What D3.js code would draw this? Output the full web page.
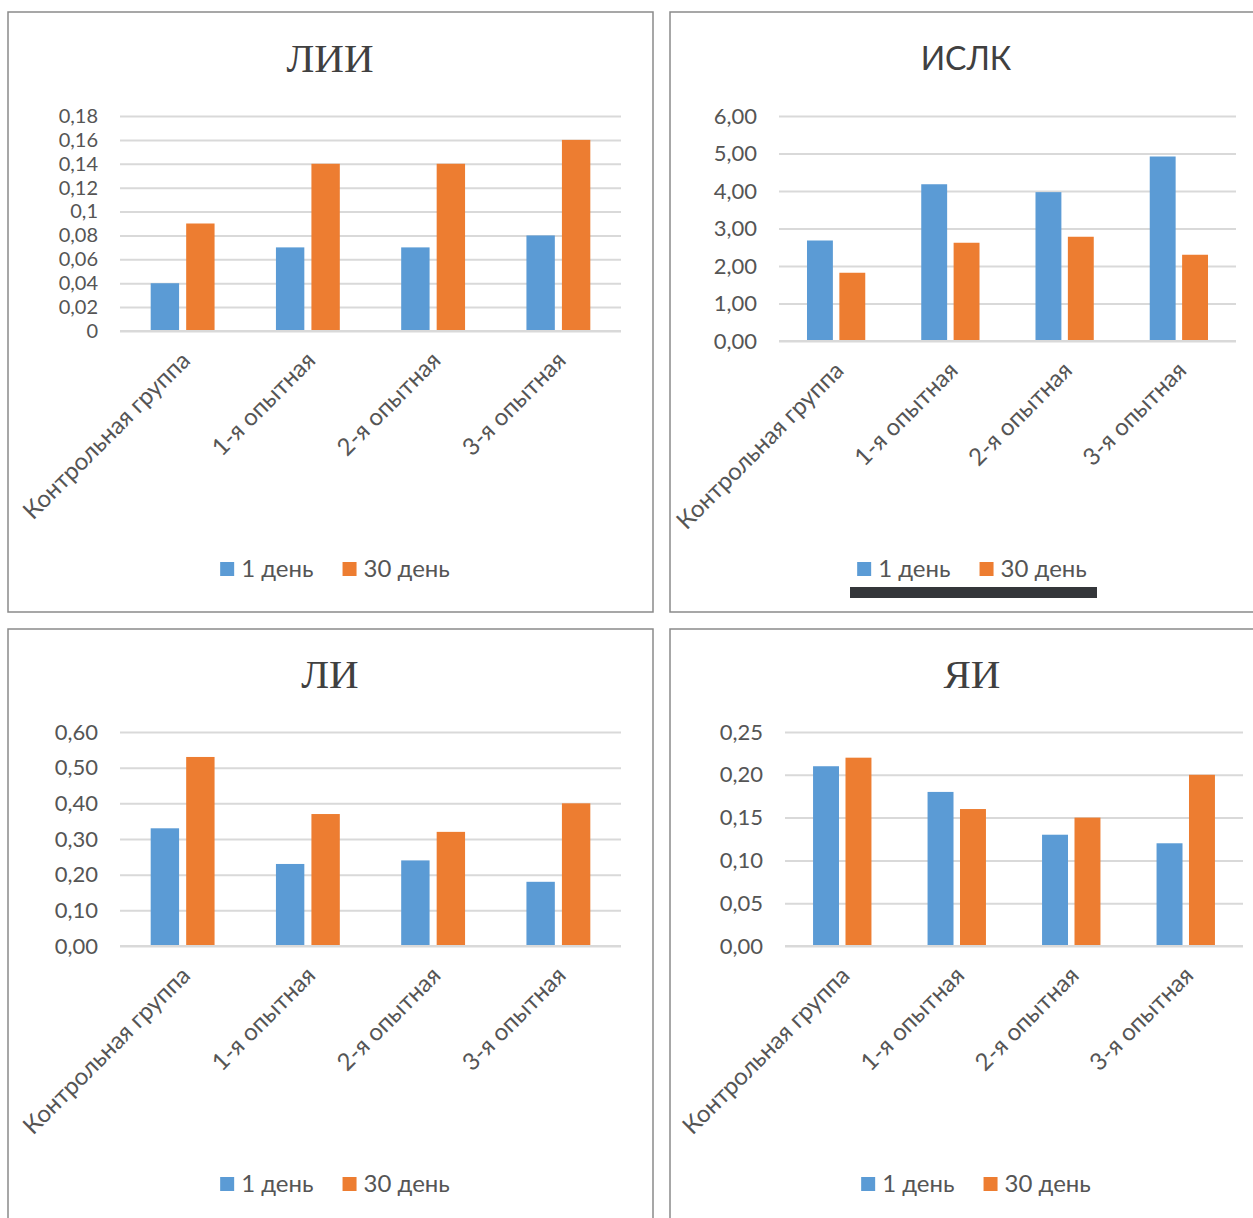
<!DOCTYPE html>
<html>
<head>
<meta charset="utf-8">
<script src="https://cdn.jsdelivr.net/npm/d3@7"></script>
<style>
  body { margin: 0; background: #fff; }
  svg { display: block; }
</style>
</head>
<body>
<div id="charts"></div>
<script>
// categories and series
var categories = ["Контрольная группа", "1-я опытная", "2-я опытная", "3-я опытная"];
var seriesNames = ["1 день", "30 день"];
var seriesColors = ["#5B9BD5", "#ED7D31"];

// ЛИИ
var liiDay1 = [0.04, 0.07, 0.07, 0.08];
var liiDay30 = [0.09, 0.14, 0.14, 0.16];
var liiTicks = [0, 0.02, 0.04, 0.06, 0.08, 0.1, 0.12, 0.14, 0.16, 0.18];

// ИСЛК
var islkDay1 = [2.68, 4.18, 3.97, 4.92];
var islkDay30 = [1.82, 2.62, 2.78, 2.30];
var islkTicks = [0, 1, 2, 3, 4, 5, 6];

// ЛИ
var liDay1 = [0.33, 0.23, 0.24, 0.18];
var liDay30 = [0.53, 0.37, 0.32, 0.40];
var liTicks = [0, 0.1, 0.2, 0.3, 0.4, 0.5, 0.6];

// ЯИ
var yaiDay1 = [0.21, 0.18, 0.13, 0.12];
var yaiDay30 = [0.22, 0.16, 0.15, 0.20];
var yaiTicks = [0, 0.05, 0.1, 0.15, 0.2, 0.25];

var W = 1253, H = 1218;
var textColor = "#555";
var gridColor = "#d9d9d9";
var sansFont = "Lato, 'Open Sans', sans-serif";
var serif = "'Liberation Serif', 'DejaVu Serif', serif";

var svg = d3.select("#charts")
  .append("svg")
  .attr("width", W)
  .attr("height", H);

// comma decimal formats
var fmtGeneral = function(d) { return String(d).replace(".", ","); };
var fmt2 = function(d) { return d3.format(".2f")(d).replace(".", ","); };

function drawPanel(p) {
  var g = svg.append("g");

  // panel frame
  g.append("rect")
    .attr("x", p.box[0]).attr("y", p.box[1])
    .attr("width", p.box[2] - p.box[0]).attr("height", p.box[3] - p.box[1])
    .attr("fill", "#fff")
    .attr("stroke", "#8a8a8a")
    .attr("stroke-width", 1.5);

  // title
  g.append("text")
    .attr("x", p.titleX)
    .attr("y", p.titleY)
    .attr("text-anchor", "middle")
    .style("font-family", p.titleFont)
    .style("font-size", p.titleSize + "px")
    .style("fill", "#404040")
    .text(p.title);

  var y = d3.scaleLinear()
    .domain([0, d3.max(p.ticks)])
    .range([p.y0, p.y1]);

  var x0 = d3.scaleBand()
    .domain(categories)
    .range([p.x0, p.x1])
    .paddingInner(0.49)
    .paddingOuter(0.245);

  var x1 = d3.scaleBand()
    .domain(seriesNames)
    .range([0, x0.bandwidth()])
    .paddingInner(0.2);

  // y axis with gridlines
  var yAxis = g.append("g")
    .attr("transform", "translate(" + p.x0 + ",0)")
    .call(d3.axisLeft(y).tickValues(p.ticks).tickFormat(p.fmt)
      .tickSize(-(p.x1 - p.x0)).tickPadding(22));
  yAxis.select(".domain").remove();
  yAxis.selectAll(".tick line").attr("stroke", gridColor).attr("stroke-width", 2);
  yAxis.selectAll(".tick text")
    .style("font-family", sansFont)
    .style("font-size", p.tickSize + "px")
    .style("fill", textColor);

  // bars
  var rows = categories.map(function(c, i) {
    return { cat: c, vals: [p.day1[i], p.day30[i]] };
  });
  g.selectAll(".grp")
    .data(rows)
    .enter()
    .append("g")
    .attr("transform", function(d) { return "translate(" + x0(d.cat) + ",0)"; })
    .selectAll("rect")
    .data(function(d) { return d.vals.map(function(v, j) { return { key: seriesNames[j], v: v, j: j }; }); })
    .enter()
    .append("rect")
    .attr("x", function(d) { return x1(d.key); })
    .attr("y", function(d) { return y(d.v); })
    .attr("width", x1.bandwidth())
    .attr("height", function(d) { return p.y0 - y(d.v); })
    .attr("fill", function(d) { return seriesColors[d.j]; });

  // zero line over the bar bases
  g.append("line")
    .attr("x1", p.x0).attr("x2", p.x1)
    .attr("y1", p.y0).attr("y2", p.y0)
    .attr("stroke", gridColor).attr("stroke-width", 2);

  // rotated category labels
  g.selectAll(".cat")
    .data(categories)
    .enter()
    .append("text")
    .attr("text-anchor", "end")
    .attr("transform", function(d) {
      var cx = x0(d) + x0.bandwidth() / 2 + 9;
      var cy = p.y0 + 31;
      return "translate(" + cx + "," + cy + ") rotate(-45)";
    })
    .style("font-family", sansFont)
    .style("font-size", "24px")
    .style("fill", textColor)
    .text(function(d) { return d; });

  // legend
  var leg = g.append("g");
  var items = leg.selectAll(".li")
    .data(seriesNames)
    .enter()
    .append("g");
  items.append("rect")
    .attr("width", 14).attr("height", 14)
    .attr("y", -7)
    .attr("fill", function(d, i) { return seriesColors[i]; });
  items.append("text")
    .attr("x", 21)
    .attr("y", 8)
    .style("font-family", sansFont)
    .style("font-size", "24px")
    .style("fill", textColor)
    .text(function(d) { return d; });
  var off = 0;
  var widths = [];
  items.each(function() { widths.push(this.getBBox().width); });
  var total = d3.sum(widths) + 29 * (widths.length - 1);
  items.attr("transform", function(d, i) {
    var t = "translate(" + off + ",0)";
    off += widths[i] + 29;
    return t;
  });
  leg.attr("transform", "translate(" + (p.legendX - total / 2) + "," + p.legendY + ")");
}

drawPanel({ title: "ЛИИ", titleFont: serif, titleSize: 41, titleX: 330, titleY: 72,
  box: [8, 12, 653, 612], legendX: 335, tickSize: 20,
  x0: 120, x1: 621, y0: 331, y1: 116, legendY: 569,
  day1: liiDay1, day30: liiDay30, ticks: liiTicks,
  fmt: fmtGeneral });

drawPanel({ title: "ИСЛК", titleFont: sansFont, titleSize: 32, titleX: 966, titleY: 70,
  box: [670, 12, 1280, 612], legendX: 972, tickSize: 22,
  x0: 779, x1: 1236, y0: 341, y1: 116, legendY: 569,
  day1: islkDay1, day30: islkDay30, ticks: islkTicks,
  fmt: fmt2 });

// dark strip under the ИСЛК legend
svg.append("rect")
  .attr("x", 850).attr("y", 587)
  .attr("width", 247).attr("height", 11)
  .attr("fill", "#34363a");

drawPanel({ title: "ЛИ", titleFont: serif, titleSize: 41, titleX: 330, titleY: 688,
  box: [8, 629, 653, 1240], legendX: 335, tickSize: 22,
  x0: 120, x1: 621, y0: 946, y1: 732, legendY: 1184,
  day1: liDay1, day30: liDay30, ticks: liTicks,
  fmt: fmt2 });

drawPanel({ title: "ЯИ", titleFont: serif, titleSize: 41, titleX: 972, titleY: 688,
  box: [670, 629, 1280, 1240], legendX: 976, tickSize: 22,
  x0: 785, x1: 1243, y0: 946, y1: 732, legendY: 1184,
  day1: yaiDay1, day30: yaiDay30, ticks: yaiTicks,
  fmt: fmt2 });
</script>
</body>
</html>
